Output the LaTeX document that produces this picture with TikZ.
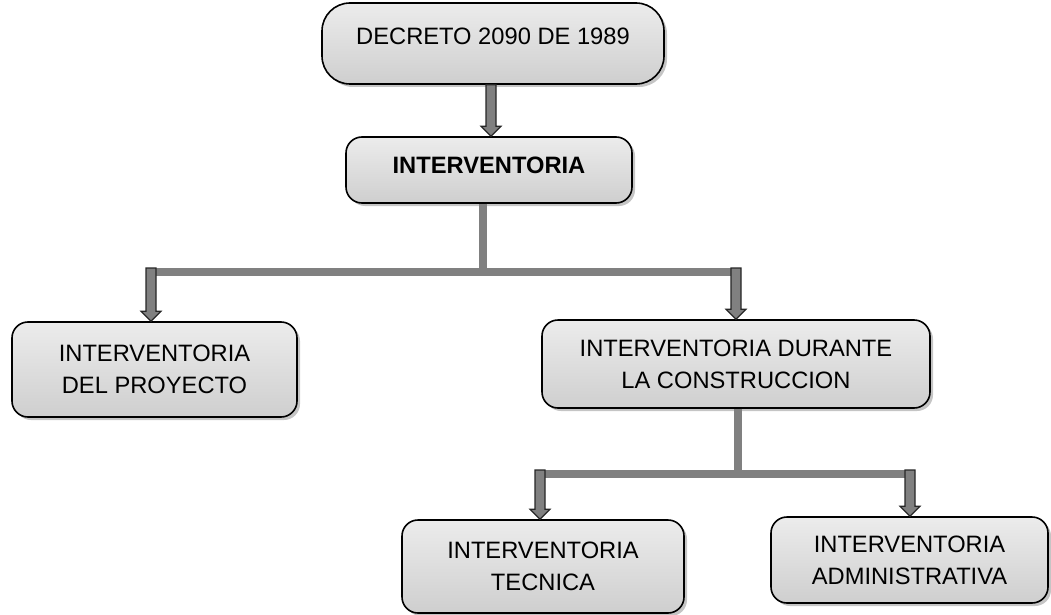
\documentclass[tikz,border=0pt]{standalone}
\usepackage{fontspec}
\setmainfont{Liberation Sans}
\usetikzlibrary{shadows,calc}
\newcommand\downblock[2]{%
    \path (#1) coordinate (bs) (#2.north) coordinate (be);
    \draw[blockarrow] let \p1=(bs), \p2=(be) in
        (\x1-5pt,\y1) -- (\x1+5pt,\y1) -- (\x1+5pt,\y2+10pt) -- (\x1+10pt,\y2+10pt)
        -- (\x1,\y2) -- (\x1-10pt,\y2+10pt) -- (\x1-5pt,\y2+10pt) -- cycle;
}
\begin{document}
\begin{tikzpicture}[x=1pt,y=-1pt,
    box/.style={draw,line width=1.6pt,rounded corners=16pt,top color=gray!15,bottom color=gray!38,
        drop shadow={shadow xshift=3pt,shadow yshift=-3pt,fill=black!45},
        align=center,font=\fontsize{23.7}{32}\selectfont,inner sep=0pt},
    bar/.style={gray,line width=8pt},
    blockarrow/.style={fill=gray,draw=black!85,line width=1.2pt,line join=miter}]
    \useasboundingbox (0,0) rectangle (1051,615);
    \node[box,rounded corners=28pt,minimum width=342pt,minimum height=81pt,text depth=15pt](dec) at (493,43.5) {DECRETO 2090 DE 1989};
    \node[box,minimum width=286pt,minimum height=66pt,text depth=10pt](int) at (489,170) {\bfseries INTERVENTORIA};
    \node[box,minimum width=285pt,minimum height=95pt](proy) at (154.5,369.5) {INTERVENTORIA\\DEL PROYECTO};
    \node[box,minimum width=388pt,minimum height=88pt](dur) at (736,364) {INTERVENTORIA DURANTE\\LA CONSTRUCCION};
    \node[box,minimum width=282pt,minimum height=93pt](tec) at (543,566.5) {INTERVENTORIA\\TECNICA};
    \node[box,minimum width=277pt,minimum height=86pt](adm) at (909.5,560) {INTERVENTORIA\\ADMINISTRATIVA};
    \coordinate (j1) at (483,272);
    \coordinate (j2) at (738,474);
    \coordinate (a1) at (151,268);
    \coordinate (a2) at (736,268);
    \coordinate (a3) at (540,470);
    \coordinate (a4) at (910,470);
    \draw[bar] (int.south -| j1) -- (j1);
    \draw[bar] ([xshift=-5pt]a1 |- j1) -- ([xshift=5pt]a2 |- j1);
    \draw[bar] (dur.south -| j2) -- (j2);
    \draw[bar] ([xshift=-5pt]a3 |- j2) -- ([xshift=5pt]a4 |- j2);
    \downblock{dec.south -| 491,0}{int}
    \downblock{a1}{proy}
    \downblock{a2}{dur}
    \downblock{a3}{tec}
    \downblock{a4}{adm}
\end{tikzpicture}
\end{document}
